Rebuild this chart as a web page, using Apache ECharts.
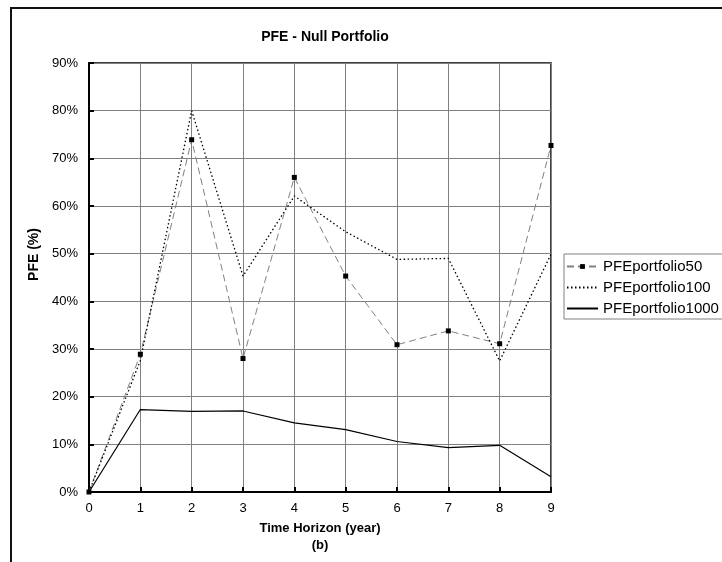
<!DOCTYPE html>
<html>
<head>
<meta charset="utf-8">
<script src="https://cdn.jsdelivr.net/npm/echarts@6/dist/echarts.min.js"></script>
<style>
html,body{margin:0;padding:0;background:#fff;}
#frame{position:absolute;left:10px;top:7px;width:720px;height:560px;border-left:2px solid #111;border-top:2px solid #111;}
#c{position:absolute;left:0;top:0;width:722px;height:562px;}
</style>
</head>
<body>
<div id="frame"></div>
<div id="c"></div>
<script>
var years = [0, 1, 2, 3, 4, 5, 6, 7, 8, 9];
var pfe50 = [0, 28.9, 73.9, 28.0, 66.0, 45.3, 30.9, 33.8, 31.1, 72.7];
var pfe100 = [0, 27.6, 80.0, 45.3, 62.1, 54.6, 48.8, 49.0, 27.5, 49.9];
var pfe1000 = [0, 17.3, 16.9, 17.0, 14.5, 13.1, 10.6, 9.3, 9.8, 3.2];
var seriesNames = ['PFEportfolio50', 'PFEportfolio100', 'PFEportfolio1000'];

function pairs(vals){ return years.map(function(y,i){ return [y, vals[i]]; }); }

var font = 'Liberation Sans, Arial, sans-serif';
var chart = echarts.init(document.getElementById('c'), null, {renderer:'canvas'});
chart.setOption({
  animation: false,
  backgroundColor: 'transparent',
  title: {
    text: 'PFE - Null Portfolio',
    left: 320, top: 25, textAlign: 'center',
    textStyle: {fontFamily: font, fontSize: 14, fontWeight: 'bold', color: '#000'}
  },
  legend: {
    orient: 'vertical',
    left: 564, top: 254,
    data: [
      {name: seriesNames[0]},
      {name: seriesNames[1], itemStyle: {opacity: 0}},
      {name: seriesNames[2], itemStyle: {opacity: 0}}
    ],
    itemWidth: 31, itemHeight: 6, itemGap: 4,
    padding: [4, 10, 2, 2],
    borderColor: '#808080', borderWidth: 1,
    textStyle: {fontFamily: font, fontSize: 15, color: '#000', lineHeight: 17}
  },
  grid: {
    left: 89, top: 63, width: 462, height: 429,
    show: true, borderColor: '#000', borderWidth: 1.5, backgroundColor: 'transparent'
  },
  xAxis: {
    type: 'value', min: 0, max: 9, interval: 1,
    name: 'Time Horizon (year)\n(b)',
    nameLocation: 'middle', nameGap: 24,
    nameTextStyle: {fontFamily: font, fontSize: 13, fontWeight: 'bold', color: '#000', lineHeight: 17, verticalAlign: 'top'},
    axisLine: {lineStyle: {color: '#000', width: 2}},
    axisTick: {inside: true, length: 5, lineStyle: {color: '#000', width: 2}},
    axisLabel: {fontFamily: font, fontSize: 13, color: '#000', margin: 10},
    splitLine: {show: true, lineStyle: {color: '#808080', width: 1}}
  },
  yAxis: {
    type: 'value', min: 0, max: 90, interval: 10,
    name: 'PFE (%)',
    nameLocation: 'middle', nameGap: 48, nameRotate: 90,
    nameTextStyle: {fontFamily: font, fontSize: 14, fontWeight: 'bold', color: '#000', padding: [0, 0, 0, 46]},
    axisLine: {show: true, lineStyle: {color: '#000', width: 2}},
    axisTick: {show: true, inside: true, length: 5, lineStyle: {color: '#000', width: 2}},
    axisLabel: {fontFamily: font, fontSize: 13, color: '#000', margin: 11, formatter: '{value}%'},
    splitLine: {show: true, lineStyle: {color: '#808080', width: 1}}
  },
  series: [
    {
      name: seriesNames[0], type: 'line', data: pairs(pfe50),
      symbol: 'rect', symbolSize: 5, showAllSymbol: true,
      itemStyle: {color: '#000'},
      lineStyle: {color: '#808080', width: 1, type: [7, 4]},
      z: 3
    },
    {
      name: seriesNames[1], type: 'line', data: pairs(pfe100),
      symbol: 'none',
      itemStyle: {color: '#000'},
      lineStyle: {color: '#000', width: 1.3, type: [1.5, 2.5]},
      z: 4
    },
    {
      name: seriesNames[2], type: 'line', data: pairs(pfe1000),
      symbol: 'none',
      itemStyle: {color: '#000'},
      lineStyle: {color: '#000', width: 1.2},
      z: 5
    }
  ]
});
</script>
</body>
</html>
